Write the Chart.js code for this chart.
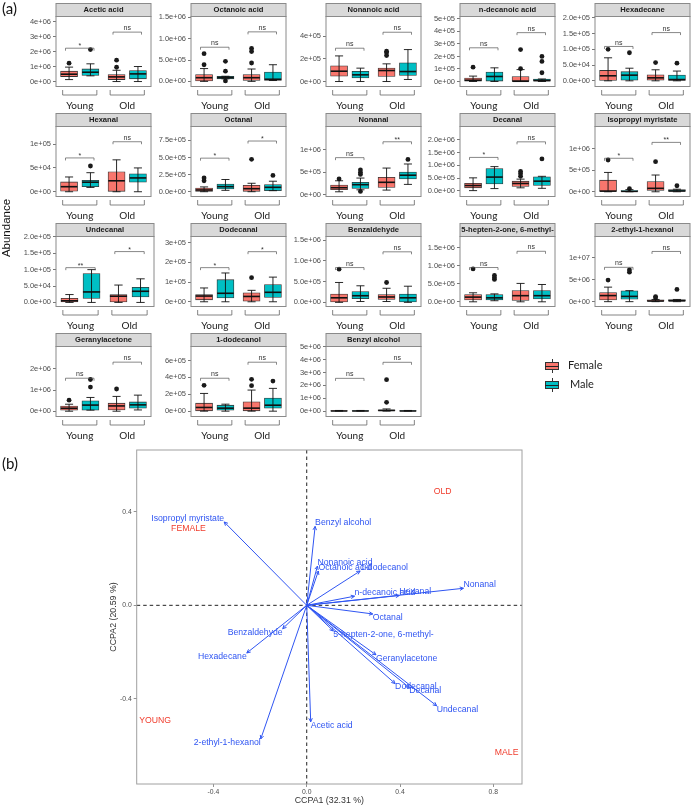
<!DOCTYPE html>
<html><head><meta charset="utf-8">
<script src="https://cdn.jsdelivr.net/npm/chart.js@4"></script>
<style>
body{margin:0;background:#fff;width:694px;height:807px;overflow:hidden;position:relative;font-family:'Liberation Sans',Arial,sans-serif}
canvas{position:absolute}
.lbl{position:absolute;white-space:nowrap;color:#111}
</style></head><body>
<script>
// ---------------- (a) boxplot panels ----------------
const panelNames = ['Acetic acid','Octanoic acid','Nonanoic acid','n-decanoic acid','Hexadecane',
  'Hexanal','Octanal','Nonanal','Decanal','Isopropyl myristate',
  'Undecanal','Dodecanal','Benzaldehyde','5-hepten-2-one, 6-methyl-','2-ethyl-1-hexanol',
  'Geranylacetone','1-dodecanol','Benzyl alcohol'];
const panelUnits = [1e6,1e6,1e5,1e5,1e4, 1e4,1e5,1e5,1e6,1e5, 1e4,1e5,1e6,1e6,1e6, 1e6,1e5,1e6];
const yAxisRanges = [[-0.33,4.33],[-0.12,1.52],[-0.44,5.74],[-0.4,5.19],[-1.8,20.4],
  [-1.0,13.7],[-0.7,9.52],[-0.37,15.07],[-0.22,2.52],[-1.1,15.2],
  [-1.24,20.1],[-0.24,3.31],[-0.1,1.59],[-0.13,1.81],[-1.1,14.8],
  [-0.25,3.06],[-0.63,7.66],[-0.42,5.03]];
const tickValues = [[0,1,2,3,4],[0,0.5,1,1.5],[0,2,4],[0,1,2,3,4,5],[0,5,10,15,20],
  [0,5,10],[0,2.5,5,7.5],[0,5,10],[0,0.5,1,1.5,2],[0,5,10],
  [0,5,10,15,20],[0,1,2,3],[0,0.5,1,1.5],[0,0.5,1,1.5],[0,5,10],
  [0,1,2],[0,2,4,6],[0,1,2,3,4,5]];
const tickLabels = [
  ['0e+00','1e+06','2e+06','3e+06','4e+06'],['0.0e+00','5.0e+05','1.0e+06','1.5e+06'],['0e+00','2e+05','4e+05'],
  ['0e+00','1e+05','2e+05','3e+05','4e+05','5e+05'],['0.0e+00','5.0e+04','1.0e+05','1.5e+05','2.0e+05'],
  ['0e+00','5e+04','1e+05'],['0.0e+00','2.5e+05','5.0e+05','7.5e+05'],['0e+00','5e+05','1e+06'],
  ['0.0e+00','5.0e+05','1.0e+06','1.5e+06','2.0e+06'],['0e+00','5e+05','1e+06'],
  ['0.0e+00','5.0e+04','1.0e+05','1.5e+05','2.0e+05'],['0e+00','1e+05','2e+05','3e+05'],
  ['0.0e+00','5.0e+05','1.0e+06','1.5e+06'],['0.0e+00','5.0e+05','1.0e+06','1.5e+06'],['0e+00','5e+06','1e+07'],
  ['0e+00','1e+06','2e+06'],['0e+00','2e+05','4e+05','6e+05'],['0e+00','1e+06','2e+06','3e+06','4e+06','5e+06']];
// [lower whisker, Q1, median, Q3, upper whisker] in panel units
const youngFemale = [[0.13,0.33,0.49,0.69,0.96],[0,0.01,0.086,0.16,0.30],[0,0.47,0.91,1.38,2.26],[0,0,0.1,0.27,0.43],[0,0,1.6,3.3,7.3],
  [0,0.1,1.06,2.06,3.1],[0,0,0.25,0.54,0.7],[0.67,1.12,1.57,2.16,3.1],[0.01,0.12,0.21,0.3,0.51],[0,0,0.16,2.7,4.5],
  [0,0,0.5,1.24,2.4],[0,0.1,0.29,0.36,0.7],[0,0,0.11,0.2,0.48],[0,0.05,0.13,0.2,0.25],[0,0.38,1.38,2.08,3.3],
  [0,0.05,0.14,0.24,0.33],[0,0.04,0.44,0.95,2.1],[0,0,0.01,0.03,0.05]];
const youngMale = [[0.38,0.40,0.62,0.84,1.18],[0.06,0.06,0.09,0.12,0.12],[0,0.32,0.59,0.91,1.18],[0,0,0.4,0.75,1.09],[0,0.2,1.8,2.9,4.0],
  [0.9,1.06,2.0,2.4,4.0],[0.2,0.39,0.74,1.13,1.78],[1.1,1.42,2.24,2.76,3.7],[0.09,0.27,0.54,0.87,0.95],[0,0,0.1,0.3,0.5],
  [0,1.24,3.2,8.8,10.0],[0,0.19,0.43,1.12,1.46],[0.02,0.09,0.16,0.26,0.4],[0.03,0.05,0.11,0.2,0.22],[0,0.54,1.2,2.46,2.5],
  [0.05,0.05,0.29,0.49,0.65],[0,0.12,0.36,0.71,0.83],[0,0,0.01,0.03,0.05]];
const oldFemale = [[0,0.13,0.31,0.47,0.75],[0,0.02,0.086,0.16,0.29],[0,0.44,0.97,1.18,1.56],[0,0,0.02,0.4,0.95],[0,0.2,0.95,1.9,3.5],
  [0,0,2.3,4.2,6.7],[0,0,0.44,0.94,1.23],[1.04,1.64,2.76,3.88,5.9],[0.12,0.17,0.29,0.38,0.46],[0,0.3,0.8,2.4,3.9],
  [0,0,1.9,2.4,5.3],[0,0.03,0.27,0.45,0.58],[0.02,0.07,0.13,0.19,0.34],[0,0.04,0.17,0.31,0.51],[0,0.1,0.15,0.4,0.5],
  [0,0.06,0.25,0.38,0.7],[0,0.04,0.36,1.11,2.5],[0,0,0.05,0.1,0.17]];
const oldMale = [[0,0.18,0.51,0.73,1.0],[0.02,0.02,0.05,0.22,0.39],[0.18,0.53,0.88,1.65,2.82],[0,0,0.08,0.2,0.2],[0,0,0.4,1.8,3.1],
  [0,2.0,2.9,3.76,5.0],[0.15,0.15,0.64,1.03,1.53],[2.3,3.5,4.33,5.0,6.8],[0.1,0.21,0.38,0.55,0.57],[0,0,0.2,0.5,0.6],
  [0,1.65,3.4,4.6,7.2],[0,0.22,0.48,0.87,1.25],[0,0.01,0.11,0.2,0.39],[0,0.08,0.17,0.31,0.48],[0,0.1,0.2,0.5,0.5],
  [0.06,0.14,0.3,0.44,0.76],[0,0.36,0.71,1.55,2.7],[0,0,0.01,0.03,0.05]];
const youngFemaleOut = [[1.22],[0.39,0.65],[],[1.14],[10.0],[],[1.6,2.0],[3.5],[],[7.4],[],[],[0.8],[0.91],[4.9],[0.52],[3.06],[]];
const youngMaleOut = [[2.13],[0.01,0.24,0.47],[],[],[8.9],[5.4],[],[0.75,4.5,4.9,5.5],[],[0.7],[],[],[],[0.62,0.67,0.73],[6.7,7.2],[1.14,1.5],[],[]];
const oldFemaleOut = [[0.95,1.42],[0.43,0.70,0.77],[2.29,2.53,2.68],[1.02,2.55],[5.8],[],[4.73],[],[0.57,0.67,0.76],[7.0],[],[1.22],[0.48],[],[0.85,1.15],[1.05],[3.02,3.77],[0.68,2.45]];
const oldMaleOut = [[],[],[],[0.7,1.6,2.0],[5.6],[],[2.37],[7.8],[1.25],[1.4],[],[],[],[],[2.77],[],[3.57],[]];
const sigLabelYoung = ['*','ns','ns','ns','ns','*','*','ns','*','*','**','*','ns','ns','ns','ns','ns','ns'];
const sigLabelOld = ['ns','ns','ns','ns','ns','ns','*','**','ns','**','*','*','ns','ns','ns','ns','ns','ns'];
const sigHeightYoung = [2.22,0.8,2.94,2.69,10.9,7.1,4.9,8.2,1.31,7.8,10.6,1.73,0.84,0.95,7.8,1.56,3.9,2.55];
const sigHeightOld = [3.29,1.16,4.35,3.9,15.3,10.5,7.4,11.7,1.92,11.5,15.5,2.54,1.22,1.4,11.4,2.32,5.8,3.8];
const ageGroups = ['Young','Old'];
const sexGroups = ['Female','Male'];
const sexColors = ['#F8766D','#00BFC4'];

// ---------------- (b) CCPA biplot ----------------
const compounds = ['Isopropyl myristate','Benzyl alcohol','Nonanoic acid','Octanoic acid','1-dodecanol','n-decanoic acid',
  'Hexanal','Nonanal','Octanal','5-hepten-2-one, 6-methyl-','Geranylacetone','Dodecanal','Decanal','Undecanal',
  'Acetic acid','2-ethyl-1-hexanol','Hexadecane','Benzaldehyde'];
const ccpa1 = [-0.354,0.036,0.046,0.05,0.229,0.205,0.397,0.672,0.283,0.114,0.297,0.379,0.44,0.557,0.017,-0.197,-0.257,-0.103];
const ccpa2 = [0.357,0.338,0.168,0.147,0.147,0.039,0.042,0.073,-0.037,-0.11,-0.212,-0.335,-0.352,-0.43,-0.499,-0.572,-0.204,-0.1];
const factorLabels = ['OLD','FEMALE','YOUNG','MALE'];
const factorX = [0.583,-0.507,-0.65,0.857];
const factorY = [0.486,0.33,-0.494,-0.631];
const biplotXTicks = [-0.4,0,0.4,0.8];
const biplotXTickLabels = ['-0.4','0.0','0.4','0.8'];
const biplotYTicks = [-0.4,0,0.4];
const biplotYTickLabels = ['-0.4','0.0','0.4'];
const biplotXRange = [-0.729,0.923];
const biplotYRange = [-0.765,0.665];

// ---------------- layout ----------------
const COL_LEFT=[56,191,326,460,595], ROW_TOP=[3,113,223,333];
const PW=98, STRIP=13.5, PH=70, YW=50, XH=25.5, DODGE=0.225;

function addLabel(txt, css){ const d=document.createElement('div'); d.className='lbl'; d.textContent=txt; Object.assign(d.style, css); document.body.appendChild(d); return d; }

const panelPlugin = {
  id:'panelDeco',
  beforeDraw(chart, args, opts){
    const i=opts.index, ca=chart.chartArea, ctx=chart.ctx;
    ctx.save();
    ctx.fillStyle='#D9D9D9'; ctx.strokeStyle='#8a8a8a'; ctx.lineWidth=1;
    ctx.fillRect(ca.left, 0.5, ca.right-ca.left, ca.top-0.5);
    ctx.strokeRect(ca.left, 0.5, ca.right-ca.left, ca.top-0.5);
    ctx.fillStyle='#1a1a1a'; ctx.font='bold 7.6px "Liberation Sans"'; ctx.textAlign='center'; ctx.textBaseline='middle';
    ctx.fillText(panelNames[i], (ca.left+ca.right)/2, ca.top/2+0.5);
    ctx.restore();
  },
  afterDatasetsDraw(chart, args, opts){
    const i=opts.index, ctx=chart.ctx, xs=chart.scales.x, ys=chart.scales.y, u=panelUnits[i];
    const groups=[[youngFemale,1-DODGE],[youngMale,1+DODGE],[oldFemale,2-DODGE],[oldMale,2+DODGE]];
    ctx.save(); ctx.strokeStyle='#111';
    groups.forEach(([arr,pos])=>{
      const s=arr[i]; const cx=xs.getPixelForValue(pos);
      const lo=ys.getPixelForValue(s[0]*u), hi=ys.getPixelForValue(s[4]*u), md=ys.getPixelForValue(s[2]*u);
      const cap=xs.getPixelForValue(pos+0.085)-cx, half=xs.getPixelForValue(pos+0.175)-cx;
      ctx.lineWidth=0.9; ctx.beginPath();
      ctx.moveTo(cx,lo); ctx.lineTo(cx,hi);
      ctx.moveTo(cx-cap,lo); ctx.lineTo(cx+cap,lo);
      ctx.moveTo(cx-cap,hi); ctx.lineTo(cx+cap,hi); ctx.stroke();
      ctx.lineWidth=1.6; ctx.beginPath(); ctx.moveTo(cx-half,md); ctx.lineTo(cx+half,md); ctx.stroke();
    });
    ctx.restore();
  },
  afterDraw(chart, args, opts){
    const i=opts.index, ctx=chart.ctx, ca=chart.chartArea, xs=chart.scales.x, ys=chart.scales.y, u=panelUnits[i];
    ctx.save();
    ctx.strokeStyle='#8a8a8a'; ctx.lineWidth=1;
    ctx.strokeRect(ca.left, ca.top, ca.right-ca.left, ca.bottom-ca.top);
    // significance brackets
    ctx.strokeStyle='#555'; ctx.lineWidth=0.7; ctx.fillStyle='#333';
    ctx.font='7px "Liberation Sans"'; ctx.textAlign='center'; ctx.textBaseline='bottom';
    [[1,sigHeightYoung[i],sigLabelYoung[i]],[2,sigHeightOld[i],sigLabelOld[i]]].forEach(([c,h,l])=>{
      const x0=xs.getPixelForValue(c-0.3), x1=xs.getPixelForValue(c+0.3), y=ys.getPixelForValue(h*u);
      ctx.beginPath(); ctx.moveTo(x0,y+2.5); ctx.lineTo(x0,y); ctx.lineTo(x1,y); ctx.lineTo(x1,y+2.5); ctx.stroke();
      ctx.fillText(l,(x0+x1)/2, l==='ns'? y-0.3 : y+1.5);
    });
    // group brackets under the axis
    ctx.strokeStyle='#666'; ctx.lineWidth=0.8;
    [1,2].forEach(c=>{
      const x0=xs.getPixelForValue(c-0.36), x1=xs.getPixelForValue(c+0.36), yb=ca.bottom+8.5;
      ctx.beginPath(); ctx.moveTo(x0,yb-5); ctx.lineTo(x0,yb); ctx.lineTo(x1,yb); ctx.lineTo(x1,yb-5); ctx.stroke();
    });
    ctx.restore();
  }
};

function makePanel(i){
  const r=Math.floor(i/5), c=i%5, u=panelUnits[i];
  const cv=document.createElement('canvas');
  const W=YW+PW+1, H=Math.round(STRIP+PH+XH);
  cv.width=W; cv.height=H; cv.style.width=W+'px'; cv.style.height=H+'px';
  cv.style.left=(COL_LEFT[c]-YW)+'px'; cv.style.top=ROW_TOP[r]+'px';
  document.body.appendChild(cv);
  const boxData=(a,b,sx)=>[{x:1+sx,y:[a[i][1]*u,a[i][3]*u]},{x:2+sx,y:[b[i][1]*u,b[i][3]*u]}];
  const outs=[];
  [[youngFemaleOut,1-DODGE],[youngMaleOut,1+DODGE],[oldFemaleOut,2-DODGE],[oldMaleOut,2+DODGE]].forEach(([a,p])=>a[i].forEach(v=>outs.push({x:p,y:v*u})));
  new Chart(cv,{
    type:'bar',
    data:{datasets:[
      {type:'scatter',data:outs,pointRadius:2.4,pointBackgroundColor:'#1a1a1a',pointBorderWidth:0,showLine:false},
      {label:sexGroups[0],data:boxData(youngFemale,oldFemale,-DODGE),backgroundColor:sexColors[0],borderColor:'#333',borderWidth:0.8,borderSkipped:false,barThickness:17,grouped:false},
      {label:sexGroups[1],data:boxData(youngMale,oldMale,DODGE),backgroundColor:sexColors[1],borderColor:'#333',borderWidth:0.8,borderSkipped:false,barThickness:17,grouped:false}
    ]},
    options:{
      responsive:false, animation:false, events:[],
      layout:{padding:{top:STRIP,right:1,left:0,bottom:0}},
      plugins:{legend:{display:false},tooltip:{enabled:false},panelDeco:{index:i}},
      scales:{
        x:{type:'linear',min:0.5,max:2.5,offset:false,
          afterBuildTicks:s=>{s.ticks=[{value:1},{value:2}];}, afterFit:s=>{s.height=XH;},
          grid:{display:false,drawTicks:false}, border:{display:false},
          ticks:{callback:(v,idx)=>ageGroups[idx],padding:13,font:{family:'Lato',size:10},color:'#1a1a1a',maxRotation:0,autoSkip:false}},
        y:{type:'linear',min:yAxisRanges[i][0]*u,max:yAxisRanges[i][1]*u,
          afterBuildTicks:s=>{s.ticks=tickValues[i].map(v=>({value:v*u}));}, afterFit:s=>{s.width=YW;},
          grid:{drawOnChartArea:false,drawTicks:true,tickLength:3,color:'#555',lineWidth:0.8}, border:{display:false},
          ticks:{callback:(v,idx)=>tickLabels[i][idx],padding:2,font:{family:'Liberation Sans',size:7.5},color:'#4d4d4d',autoSkip:false}}
      }
    },
    plugins:[panelPlugin]
  });
}
for(let i=0;i<panelNames.length;i++) makePanel(i);

// legend
sexGroups.forEach((g,k)=>{
  const top=[360,379][k];
  const box=document.createElement('div');
  Object.assign(box.style,{position:'absolute',left:'545px',top:(top+2)+'px',width:'14px',height:'8px',background:sexColors[k],border:'1px solid #333',boxSizing:'border-box'});
  document.body.appendChild(box);
  const med=document.createElement('div');
  Object.assign(med.style,{position:'absolute',left:'545px',top:(top+5.5)+'px',width:'14px',height:'1px',background:'#222'});
  document.body.appendChild(med);
  [top-1,top+10].forEach(t=>{const w=document.createElement('div');Object.assign(w.style,{position:'absolute',left:'551.5px',top:t+'px',width:'1px',height:'3px',background:'#333'});document.body.appendChild(w);});
  addLabel(g,{left:(568+k*2)+'px',top:(top-2)+'px',font:'11px Lato',color:'#222'});
});
addLabel('(a)',{left:'2px',top:'-1px',font:'15px Lato'});
addLabel('(b)',{left:'2px',top:'454px',font:'15px Lato'});
addLabel('Abundance',{left:'-24px',top:'222px',font:'11.5px "Liberation Sans"',transform:'rotate(-90deg)',transformOrigin:'center',width:'60px',textAlign:'center'});

// ---------------- biplot ----------------
const BLUE='#2f55f2', RED='#f03c2c';
const biplotPlugin = {
  id:'biplotDeco',
  beforeDatasetsDraw(chart){
    const ctx=chart.ctx, ca=chart.chartArea, xs=chart.scales.x, ys=chart.scales.y;
    ctx.save(); ctx.strokeStyle='#222'; ctx.lineWidth=1; ctx.setLineDash([3.5,3]);
    const x0=xs.getPixelForValue(0), y0=ys.getPixelForValue(0);
    ctx.beginPath(); ctx.moveTo(x0,ca.top); ctx.lineTo(x0,ca.bottom); ctx.moveTo(ca.left,y0); ctx.lineTo(ca.right,y0); ctx.stroke();
    ctx.restore();
  },
  afterDatasetsDraw(chart){
    const ctx=chart.ctx, xs=chart.scales.x, ys=chart.scales.y;
    const ox=xs.getPixelForValue(0), oy=ys.getPixelForValue(0);
    ctx.save();
    ctx.strokeStyle=BLUE; ctx.fillStyle=BLUE; ctx.lineWidth=1;
    compounds.forEach((nm,k)=>{
      const px=xs.getPixelForValue(ccpa1[k]), py=ys.getPixelForValue(ccpa2[k]);
      const a=Math.atan2(py-oy,px-ox), L=4;
      ctx.beginPath();
      ctx.moveTo(px-L*Math.cos(a-0.45),py-L*Math.sin(a-0.45)); ctx.lineTo(px,py);
      ctx.lineTo(px-L*Math.cos(a+0.45),py-L*Math.sin(a+0.45)); ctx.stroke();
    });
    ctx.font='8.7px "Liberation Sans"'; ctx.textBaseline='middle';
    compounds.forEach((nm,k)=>{
      const px=xs.getPixelForValue(ccpa1[k]), py=ys.getPixelForValue(ccpa2[k]);
      ctx.textAlign= ccpa1[k]<0 ? 'right':'left';
      ctx.fillText(nm, px, py + (ccpa2[k]>0 ? -3.5 : 3.5));
    });
    ctx.fillStyle=RED; ctx.textAlign='center';
    factorLabels.forEach((f,k)=>ctx.fillText(f, xs.getPixelForValue(factorX[k]), ys.getPixelForValue(factorY[k])));
    ctx.restore();
  },
  afterDraw(chart){
    const ctx=chart.ctx, ca=chart.chartArea;
    ctx.save(); ctx.strokeStyle='#a0a0a0'; ctx.lineWidth=1;
    ctx.strokeRect(ca.left,ca.top,ca.right-ca.left,ca.bottom-ca.top); ctx.restore();
  }
};
(function(){
  const cv=document.createElement('canvas');
  const L=100,T=440,W=430,H=367;
  cv.width=W; cv.height=H; cv.style.width=W+'px'; cv.style.height=H+'px'; cv.style.left=L+'px'; cv.style.top=T+'px';
  document.body.appendChild(cv);
  const datasets=compounds.map((nm,k)=>({label:nm,data:[{x:0,y:0},{x:ccpa1[k],y:ccpa2[k]}],showLine:true,borderColor:BLUE,borderWidth:1,pointRadius:0}));
  new Chart(cv,{
    type:'scatter', data:{datasets},
    options:{
      responsive:false, animation:false, events:[],
      layout:{padding:{top:10,right:8,left:0,bottom:0}},
      plugins:{legend:{display:false},tooltip:{enabled:false}},
      scales:{
        x:{type:'linear',min:biplotXRange[0],max:biplotXRange[1],
          afterBuildTicks:s=>{s.ticks=biplotXTicks.map(v=>({value:v}));}, afterFit:s=>{s.height=23;},
          grid:{drawOnChartArea:false,drawTicks:true,tickLength:3,color:'#777',lineWidth:0.8}, border:{display:false},
          ticks:{callback:(v,idx)=>biplotXTickLabels[idx],padding:1.5,font:{family:'Liberation Sans',size:6.8},color:'#4d4d4d',maxRotation:0,autoSkip:false},
          title:{display:true,text:'CCPA1 (32.31 %)',font:{family:'Liberation Sans',size:8.8},color:'#333',padding:{top:0,bottom:1}}},
        y:{type:'linear',min:biplotYRange[0],max:biplotYRange[1],
          afterBuildTicks:s=>{s.ticks=biplotYTicks.map(v=>({value:v}));}, afterFit:s=>{s.width=36.7;},
          grid:{drawOnChartArea:false,drawTicks:true,tickLength:3,color:'#777',lineWidth:0.8}, border:{display:false},
          ticks:{callback:(v,idx)=>biplotYTickLabels[idx],padding:2,font:{family:'Liberation Sans',size:6.8},color:'#4d4d4d',autoSkip:false},
          title:{display:true,text:'CCPA2 (20.59 %)',font:{family:'Liberation Sans',size:8.8},color:'#333',padding:{top:8.7,bottom:0}}}
      }
    },
    plugins:[biplotPlugin]
  });
})();
</script>
</body></html>
